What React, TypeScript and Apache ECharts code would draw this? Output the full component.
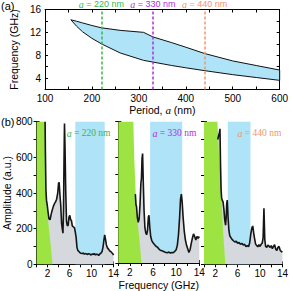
import React, { useEffect, useRef } from "react";
import * as echarts from "echarts";

// ---------- data ----------
const periodTicks = [100, 200, 300, 400, 500, 600];
const bandPeriod = [155, 167, 180, 200, 220, 260, 310, 330, 370, 400, 440, 500, 550, 600];
const bandUpper = [14.2, 13.95, 13.65, 13.2, 12.8, 12.35, 12.0, 11.2, 10.2, 9.4, 8.3, 7.0, 6.2, 5.4];
const bandLower = [14.2, 13.1, 12.1, 10.95, 10.0, 8.4, 7.1, 6.8, 6.2, 5.8, 5.3, 4.6, 4.1, 3.6];
const periods = [220, 330, 440];
const periodLabels = ["220 nm", "330 nm", "440 nm"];
const periodColors = ["#3cb64a", "#b12fe0", "#f4946a"];

// spectra (frequency GHz, amplitude a.u.)
const f220 = [1.55, 1.6, 1.7, 1.8, 1.95, 2.1, 2.25, 2.45, 2.65, 2.85, 3.05, 3.25, 3.45, 3.65, 3.85, 4.0, 4.1, 4.25, 4.4, 4.55, 4.7, 4.8, 4.9, 5.0, 5.08, 5.18, 5.3, 5.45, 5.6, 5.75, 5.9, 6.05, 6.2, 6.35, 6.5, 6.7, 6.9, 7.05, 7.2, 7.35, 7.5, 7.7, 7.9, 8.1, 8.3, 8.5, 8.7, 8.9, 9.1, 9.3, 9.5, 9.7, 9.9, 10.1, 10.3, 10.5, 10.7, 10.9, 11.1, 11.3, 11.5, 11.7, 11.9, 12.1, 12.25, 12.4, 12.55, 12.7, 12.9, 13.1, 13.3, 13.5, 13.7, 13.9, 14.0];
const a220 = [800, 640, 420, 360, 330, 290, 255, 250, 280, 305, 325, 340, 350, 365, 400, 455, 460, 390, 330, 230, 195, 175, 300, 600, 790, 650, 420, 240, 215, 220, 265, 275, 250, 245, 215, 210, 205, 180, 150, 95, 78, 72, 65, 62, 60, 63, 57, 60, 58, 55, 60, 57, 52, 58, 55, 60, 53, 57, 55, 50, 58, 62, 70, 98, 135, 165, 140, 110, 92, 85, 75, 72, 65, 58, 52];
const f330 = [2.95, 3.05, 3.15, 3.3, 3.45, 3.6, 3.75, 3.9, 4.0, 4.1, 4.2, 4.3, 4.45, 4.6, 4.75, 4.9, 5.05, 5.2, 5.3, 5.45, 5.6, 5.8, 6.0, 6.25, 6.5, 6.75, 7.0, 7.25, 7.5, 7.75, 8.0, 8.25, 8.5, 8.75, 9.0, 9.25, 9.5, 9.75, 10.0, 10.2, 10.4, 10.6, 10.75, 10.9, 11.05, 11.2, 11.4, 11.6, 11.8, 12.0, 12.2, 12.4, 12.6, 12.8, 13.0, 13.2, 13.4, 13.6, 13.8, 14.0];
const a330 = [390, 330, 320, 255, 230, 250, 330, 450, 480, 590, 620, 480, 300, 200, 170, 160, 185, 260, 270, 200, 150, 125, 115, 105, 95, 90, 80, 72, 70, 66, 62, 60, 58, 62, 56, 60, 58, 66, 75, 100, 160, 260, 360, 390, 340, 260, 180, 130, 100, 80, 60, 75, 110, 140, 165, 150, 130, 150, 140, 150];
const f440 = [2.45, 2.6, 2.75, 2.85, 2.95, 3.05, 3.15, 3.25, 3.4, 3.55, 3.7, 3.85, 3.95, 4.05, 4.15, 4.3, 4.45, 4.6, 4.8, 5.0, 5.25, 5.5, 5.75, 6.0, 6.25, 6.5, 6.75, 7.0, 7.25, 7.5, 7.75, 7.95, 8.15, 8.35, 8.55, 8.7, 8.85, 9.0, 9.2, 9.4, 9.6, 9.8, 10.0, 10.2, 10.4, 10.55, 10.7, 10.85, 11.0, 11.2, 11.4, 11.6, 11.8, 12.0, 12.2, 12.4, 12.6, 12.8, 13.0, 13.2, 13.4, 13.6, 13.8, 14.0];
const a440 = [700, 720, 740, 760, 560, 420, 370, 360, 350, 310, 250, 220, 260, 340, 360, 260, 190, 160, 150, 140, 132, 125, 130, 118, 122, 112, 118, 108, 112, 100, 105, 98, 120, 170, 205, 215, 180, 150, 115, 105, 98, 110, 100, 112, 120, 150, 315, 140, 100, 95, 108, 102, 95, 105, 88, 100, 110, 85, 78, 95, 100, 78, 72, 68];

// low-frequency (green) regions: boundary points
const g220F = [0, 1.55, 1.6, 1.75, 2.0, 2.25, 2.6, 2.9, 0];
const g220A = [800, 800, 600, 400, 280, 200, 100, 0, 0];
const g330F = [0, 2.6, 2.75, 3.0, 3.2, 3.45, 3.75, 4.0, 0];
const g330A = [800, 800, 600, 400, 300, 200, 100, 0, 0];
const g440F = [0, 2.4, 2.7, 3.1, 3.37, 3.6, 3.8, 0];
const g440A = [800, 800, 600, 400, 200, 100, 0, 0];

// band gaps (blue) per period
const gap220 = [7.05, 12.4];
const gap330 = [5.5, 11.05];
const gap440 = [4.25, 8.3];

const SANS = "Liberation Sans, Arial, sans-serif";
const SERIF = "Liberation Serif, Times New Roman, serif";

function polySeries(xi: number, yi: number, xs: number[], ys: number[], style: any, z: number) {
  return {
    type: "custom",
    xAxisIndex: xi,
    yAxisIndex: yi,
    z,
    silent: true,
    data: [[xs[0], ys[0]]],
    renderItem: (_p: any, api: any) => ({
      type: "polygon",
      shape: { points: xs.map((x, i) => api.coord([x, ys[i]])) },
      style,
    }),
  };
}

export default function App() {
  const ref = useRef<HTMLDivElement>(null);
  useEffect(() => {
    if (!ref.current) return;
    const chart = echarts.init(ref.current, undefined, { renderer: "svg" });

    const tick = { show: true, inside: true, length: 3, lineStyle: { color: "#000", width: 1 } };
    const axLine = { show: true, lineStyle: { color: "#000", width: 1 } };
    const lbl = { fontFamily: SANS, fontSize: 10, color: "#000" };

    const grids = [
      { left: 33, top: 9.5, width: 250, height: 80 },
      { left: 33, top: 121.7, width: 80.5, height: 142.6 },
      { left: 118.3, top: 121.7, width: 81, height: 142.6 },
      { left: 204, top: 121.7, width: 80.3, height: 142.6 },
    ];

    const xAxis: any[] = [];
    const yAxis: any[] = [];
    // top panel axes
    xAxis.push({
      gridIndex: 0, type: "value", min: 100, max: 600, interval: 50, position: "bottom",
      axisLine: axLine, axisTick: tick, splitLine: { show: false },
      axisLabel: { ...lbl, margin: 4, formatter: (v: number) => (periodTicks.includes(v) ? String(v) : "") },
      name: "Period, {i|a} (nm)", nameLocation: "middle", nameGap: 13,
      nameTextStyle: { ...lbl, fontSize: 10.5, rich: { i: { fontFamily: SERIF, fontStyle: "italic", fontSize: 11 } } },
    });
    xAxis.push({
      gridIndex: 0, type: "value", min: 100, max: 600, interval: 50, position: "top",
      axisLine: axLine, axisTick: tick, axisLabel: { show: false }, splitLine: { show: false },
    });
    yAxis.push({
      gridIndex: 0, type: "value", min: 2, max: 16, interval: 2, position: "left",
      axisLine: axLine, axisTick: tick, splitLine: { show: false },
      axisLabel: { ...lbl, margin: 4, formatter: (v: number) => (v % 4 === 0 ? String(v) : "") },
      name: "Frequency (GHz)", nameLocation: "middle", nameGap: 20, nameTextStyle: { ...lbl, fontSize: 10.5 },
    });
    yAxis.push({
      gridIndex: 0, type: "value", min: 2, max: 16, interval: 2, position: "right",
      axisLine: axLine, axisTick: tick, axisLabel: { show: false }, splitLine: { show: false },
    });
    for (let g = 1; g <= 3; g++) {
      xAxis.push({
        gridIndex: g, type: "value", min: 0, max: 14, interval: 2, position: "bottom",
        axisLine: axLine, axisTick: tick, splitLine: { show: false },
        axisLabel: { ...lbl, margin: 4, formatter: (v: number) => ((v - 2) % 4 === 0 ? String(v) : "") },
        ...(g === 2
          ? { name: "Frequency (GHz)", nameLocation: "middle", nameGap: 16, nameTextStyle: { ...lbl, fontSize: 10.5 } }
          : {}),
      });
      xAxis.push({
        gridIndex: g, type: "value", min: 0, max: 14, interval: 2, position: "top",
        axisLine: axLine, axisTick: tick, axisLabel: { show: false }, splitLine: { show: false },
      });
      yAxis.push({
        gridIndex: g, type: "value", min: 0, max: 800, interval: 100, position: "left",
        axisLine: axLine, axisTick: tick, splitLine: { show: false },
        axisLabel: g === 1 ? { ...lbl, margin: 4, formatter: (v: number) => (v % 200 === 0 ? String(v) : "") } : { show: false },
        ...(g === 1
          ? { name: "Amplitude (a.u.)", nameLocation: "middle", nameGap: 20, nameTextStyle: { ...lbl, fontSize: 10.5 } }
          : {}),
      });
      yAxis.push({
        gridIndex: g, type: "value", min: 0, max: 800, interval: 100, position: "right",
        axisLine: axLine, axisTick: tick, axisLabel: { show: false }, splitLine: { show: false },
      });
    }

    const series: any[] = [];
    // top band
    const bx = [...bandPeriod, ...bandPeriod.slice().reverse()];
    const by = [...bandUpper, ...bandLower.slice().reverse()];
    const band = polySeries(0, 0, bx, by, { fill: "#aee3f8", stroke: "#111", lineWidth: 1 }, 2);
    (band as any).markLine = {
      silent: true,
      symbol: "none",
      animation: false,
      data: periods.map((p, i) => ({
        xAxis: p,
        lineStyle: { color: periodColors[i], type: [3, 2], width: 1.5 },
        label: {
          show: true,
          position: "end",
          distance: 1,
          padding: 0,
          lineHeight: 9,
          formatter: "{i|a} = " + periodLabels[i],
          color: periodColors[i],
          fontFamily: SANS,
          fontSize: 9,
          rich: { i: { fontFamily: SERIF, fontStyle: "italic", fontSize: 10, lineHeight: 9, color: periodColors[i] } },
        },
      })),
    };
    series.push(band);

    const panels = [
      { f: f220, a: a220, gf: g220F, ga: g220A, gap: gap220 },
      { f: f330, a: a330, gf: g330F, ga: g330A, gap: gap330 },
      { f: f440, a: a440, gf: g440F, ga: g440A, gap: gap440 },
    ];
    panels.forEach((p, k) => {
      const xi = 2 + k * 2;
      const yi = 2 + k * 2;
      series.push(polySeries(xi, yi, [p.gap[0], p.gap[1], p.gap[1], p.gap[0]], [0, 0, 800, 800], { fill: "#aee3f8" }, 1));
      const data = p.f.map((x, i) => [x, p.a[i]]);
      series.push({
        type: "line", xAxisIndex: xi, yAxisIndex: yi, z: 2, data, showSymbol: false, silent: true,
        lineStyle: { width: 0 }, areaStyle: { color: "#d5d9de", opacity: 1 },
      });
      series.push(polySeries(xi, yi, p.gf, p.ga, { fill: "#9de443" }, 3));
      series.push({
        type: "line", xAxisIndex: xi, yAxisIndex: yi, z: 4, data, showSymbol: false, silent: true,
        lineStyle: { width: 1.6, color: "#151515" },
      });
    });

    const panelRight = [113.5, 199.3, 284.3];
    const graphic: any[] = [
      { type: "text", left: 1, top: 0, style: { text: "(a)", font: `11px ${SANS}`, fill: "#000" } },
      { type: "text", left: 1, top: 116, style: { text: "(b)", font: `11px ${SANS}`, fill: "#000" } },
      ...panelRight.map((r, i) => ({
        type: "text",
        x: r - 3,
        y: 133,
        z: 10,
        style: {
          text: "{i|a} = " + periodLabels[i],
          align: "right",
          verticalAlign: "middle",
          fill: periodColors[i],
          font: `9.5px ${SERIF}`,
          rich: { i: { fontFamily: SERIF, fontStyle: "italic", fontSize: 10, fill: periodColors[i], color: periodColors[i] } },
        },
      })),
    ];

    chart.setOption({
      animation: false,
      backgroundColor: "#fff",
      grid: grids,
      xAxis,
      yAxis,
      series,
      graphic,
    });
    return () => chart.dispose();
  }, []);
  return <div ref={ref} style={{ position: "fixed", left: 0, top: 0, width: 291, height: 291 }} />;
}
